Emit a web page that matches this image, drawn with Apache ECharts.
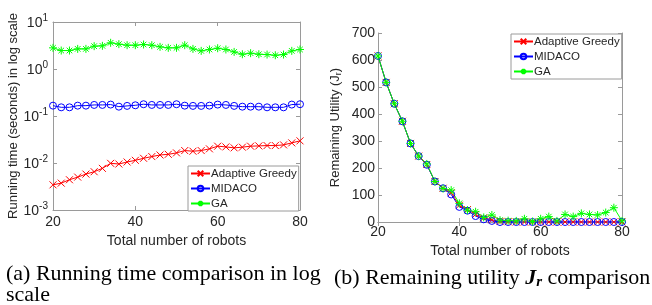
<!DOCTYPE html>
<html>
<head>
<meta charset="utf-8">
<script src="https://cdn.jsdelivr.net/npm/echarts@6/dist/echarts.min.js"></script>
<style>
  html, body { margin: 0; padding: 0; background: #fff; }
  #chart { width: 652px; height: 305px; }
</style>
</head>
<body>
<div id="chart"></div>
<script>
// robots on the x axis (both panels)
var robots = [20, 22, 24, 26, 28, 30, 32, 34, 36, 38, 40, 42, 44, 46, 48, 50,
              52, 54, 56, 58, 60, 62, 64, 66, 68, 70, 72, 74, 76, 78, 80];

// (a) running time, seconds
var greedyTime = [0.00343, 0.00373, 0.00440, 0.00501, 0.00581, 0.00652, 0.00769, 0.00984, 0.00952, 0.0105,
                  0.0114, 0.0126, 0.0137, 0.0148, 0.0153, 0.0164, 0.0184, 0.0178, 0.0184, 0.0200,
                  0.0228, 0.0220, 0.0210, 0.0217, 0.0228, 0.0231, 0.0235, 0.0235, 0.0243, 0.0268, 0.0296];
var midacoTime = [0.166, 0.153, 0.153, 0.166, 0.166, 0.172, 0.172, 0.175, 0.158, 0.164,
                  0.169, 0.178, 0.172, 0.172, 0.172, 0.178, 0.166, 0.164, 0.164, 0.166,
                  0.175, 0.172, 0.164, 0.158, 0.158, 0.158, 0.153, 0.153, 0.153, 0.175, 0.178];
var gaTime = [2.82, 2.47, 2.47, 2.68, 2.68, 3.06, 3.11, 3.61, 3.38, 3.21,
              3.21, 3.32, 3.21, 2.96, 2.82, 2.82, 3.21, 2.68, 2.43, 2.60,
              2.77, 2.60, 2.31, 2.06, 2.17, 2.06, 2.03, 1.96, 2.03, 2.43, 2.60];

// (b) remaining utility J_r
var greedyUtil = [615, 517, 438, 373, 291, 244, 213, 150, 125, 108, 62, 46, 28, 15, 8, 2,
                  1, 0, 0, 0, 0, 0, 0, 0, 0, 0, 0, 0, 0, 0, 0];
var midacoUtil = [615, 517, 438, 373, 291, 244, 212, 150, 125, 102, 56, 42, 22, 10, 4, 0,
                  0, 0, 0, 0, 0, 0, 0, 0, 0, 0, 0, 0, 0, 0, 0];
var gaUtil = [615, 517, 438, 373, 291, 244, 215, 150, 124, 118, 69, 44, 38, 17, 26, 7,
              5, 4, 12, 2, 12, 20, 4, 28, 20, 32, 28, 26, 35, 53, 4];

var names = ['Adaptive Greedy', 'MIDACO', 'GA'];
var colors = ['#ff0000', '#0000ff', '#00ff00'];

// matlab style markers: x, o (unfilled), *
var crossSym = 'path://M0,0L10,10M10,0L0,10';
var ringSym = 'path://M10,5A5,5 0 1 1 0,5A5,5 0 1 1 10,5Z';
var starSym = 'path://M5,0L5,10M0,5L10,5M1.5,1.5L8.5,8.5M8.5,1.5L1.5,8.5';
var symbols = [crossSym, ringSym, starSym];
var symSizes = [7, 7, 8];

function pairs(ys) {
  return robots.map(function (x, i) { return [x, ys[i]]; });
}

var txt = '#262626';
var boxColor = '#9a9a9a';
var font = 'Liberation Sans';

function xAx(grid, bottom, gap, margin) {
  return {
    type: 'value', gridIndex: grid, min: 20, max: 80, interval: 20,
    position: bottom ? 'bottom' : 'top',
    name: bottom ? 'Total number of robots' : '',
    nameLocation: 'middle', nameGap: gap,
    nameTextStyle: { color: txt, fontSize: 14, fontFamily: font },
    axisLine: { show: true, lineStyle: { color: boxColor } },
    axisTick: { show: true, inside: true, length: 4, lineStyle: { color: boxColor } },
    axisLabel: { show: bottom, color: txt, fontSize: 14, fontFamily: font, margin: margin },
    splitLine: { show: false }
  };
}

function supLabel(v) {
  var e = Math.round(Math.log(v) / Math.LN10);
  return '{b|10}{s|' + e + '}';
}

function yLog(left) {
  return {
    type: 'log', logBase: 10, gridIndex: 0, min: 0.001, max: 10,
    position: left ? 'left' : 'right',
    name: left ? 'Running time (seconds) in log scale' : '',
    nameLocation: 'middle', nameGap: 32,
    nameTextStyle: { color: txt, fontSize: 13, fontFamily: font },
    axisLine: { show: true, lineStyle: { color: boxColor } },
    axisTick: { show: true, inside: true, length: 4, lineStyle: { color: boxColor } },
    minorTick: { show: false },
    axisLabel: {
      show: left, color: txt, fontFamily: font, margin: 5,
      formatter: supLabel,
      rich: {
        b: { fontSize: 14, color: txt, fontFamily: font, verticalAlign: 'bottom', lineHeight: 17 },
        s: { fontSize: 10, color: txt, fontFamily: font, verticalAlign: 'top', lineHeight: 17, padding: [0, 0, 5, 0] }
      }
    },
    splitLine: { show: false }
  };
}

function yUtil(left) {
  return {
    type: 'value', gridIndex: 1, min: 0, max: 700, interval: 100,
    position: left ? 'left' : 'right',
    name: left ? 'Remaining Utility (J{sub|r})' : '',
    nameLocation: 'middle', nameGap: 35,
    nameTextStyle: {
      color: txt, fontSize: 13, fontFamily: font,
      rich: { sub: { fontSize: 9, color: txt, fontFamily: font, verticalAlign: 'bottom', padding: [6, 0, 0, 0] } }
    },
    axisLine: { show: true, lineStyle: { color: boxColor } },
    axisTick: { show: true, inside: true, length: 4, lineStyle: { color: boxColor } },
    axisLabel: { show: left, color: txt, fontSize: 14, fontFamily: font, margin: 3 },
    splitLine: { show: false }
  };
}

function mkSeries(ys, k, xi, yi) {
  return {
    name: names[k], type: 'line', xAxisIndex: xi, yAxisIndex: yi,
    data: pairs(ys),
    symbol: symbols[k], symbolSize: symSizes[k],
    showAllSymbol: true,
    lineStyle: { color: colors[k], width: 1 },
    itemStyle: { color: k === 1 ? 'rgba(0,0,0,0)' : colors[k], borderColor: colors[k], borderWidth: 1 },
    animation: false
  };
}

function legendAt(left, top, rowH) {
  return {
    left: left, top: top,
    orient: 'vertical', itemGap: 0, itemWidth: 19, itemHeight: 7,
    padding: [0, 2, 0, 2],
    backgroundColor: '#fff', borderColor: '#9a9a9a', borderWidth: 1, borderRadius: 0,
    textStyle: { color: txt, fontSize: 11.5, fontFamily: font, lineHeight: rowH, padding: [0, 0, 0, -4] },
    data: names
  };
}

var capFont = '22px "Liberation Serif"';

var option = {
  animation: false,
  grid: [
    { left: 53, top: 22, width: 247, height: 188, show: false },
    { left: 378, top: 33, width: 244, height: 189, show: false }
  ],
  xAxis: [xAx(0, true, 24, 5), xAx(0, false, 0, 5), xAx(1, true, 21, 3), xAx(1, false, 0, 3)],
  yAxis: [yLog(true), yLog(false), yUtil(true), yUtil(false)],
  legend: [legendAt(188, 166, 15), legendAt(511, 34, 15)],
  series: [
    mkSeries(greedyTime, 0, 0, 0),
    mkSeries(midacoTime, 1, 0, 0),
    mkSeries(gaTime, 2, 0, 0),
    mkSeries(greedyUtil, 0, 2, 2),
    mkSeries(midacoUtil, 1, 2, 2),
    mkSeries(gaUtil, 2, 2, 2)
  ],
  graphic: [
    { type: 'text', left: 6, top: 263, style: { text: '(a) Running time comparison in log', font: capFont, fill: '#000' } },
    { type: 'text', left: 6, top: 284, style: { text: 'scale', font: capFont, fill: '#000' } },
    {
      type: 'text', left: 334, top: 267,
      style: {
        text: '(b) Remaining utility {j|J}{r|r} comparison',
        font: capFont, fill: '#000',
        rich: {
          j: { fontFamily: 'Liberation Serif', fontStyle: 'italic', fontWeight: 'bold', fontSize: 22 },
          r: { fontFamily: 'Liberation Serif', fontStyle: 'italic', fontWeight: 'bold', fontSize: 15, padding: [8, 0, 0, 0] }
        }
      }
    }
  ]
};

var myChart = echarts.init(document.getElementById('chart'));
myChart.setOption(option);
</script>
</body>
</html>
